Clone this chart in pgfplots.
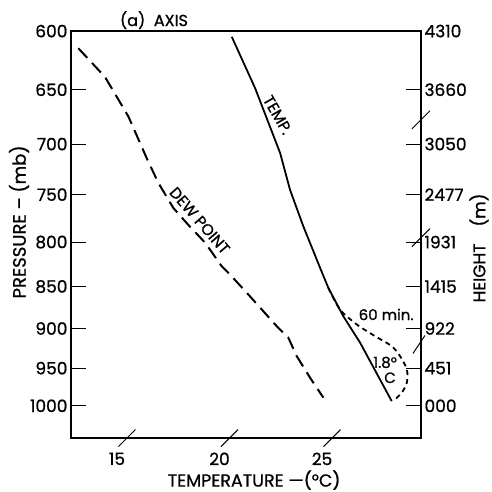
\documentclass[border=0pt]{standalone}
\usepackage{pgfplots}
\pgfplotsset{compat=1.18}
\usepackage{fontspec}
\setmainfont{Poppins}[FakeBold=0.8]
\begin{document}
\begin{tikzpicture}
\begin{axis}[name=ax,
  width=350pt, height=407pt, scale only axis,
  xmin=12.27, xmax=29.34,
  ymode=log, ymin=600, ymax=1045, y dir=reverse,
  clip=false,
  axis line style={line width=2pt},
  ytick={600,650,700,750,800,850,900,950,1000},
  yticklabels={600,650,700,750,800,850,900,950,1000},
  ytick pos=left, tick align=inside,
  major tick length=15pt,
  ytick style={line width=1pt, black},
  xtick={15,20,25}, xticklabels={15,20,25},
  xtick style={draw=none},
  xticklabel style={xshift=-10pt, yshift=-11pt},
  /pgf/number format/assume math mode=true,
  tick label style={font=\fontsize{17}{20}\selectfont},
]
\addplot[black, line width=1.8pt] coordinates {
(20.11,604.7) (21.25,648.6) (22.47,708.6) (22.95,744.9) (23.60,783.1)
(24.42,828.7) (24.82,851.5) (25.55,885.1) (26.37,917.6) (27.91,993.6)};
\addplot[black, line width=2pt, dash pattern=on 13pt off 7pt] coordinates {
(12.63,614.3) (13.93,638.8) (15.07,674.2) (15.96,713.5) (16.53,738.1)
(17.26,763.7) (17.98,781.3) (18.81,800.6) (19.62,826.8) (20.03,836.3)
(20.92,859.3) (21.65,879.1) (22.30,897.1) (22.87,911.4) (23.28,934.6)
(23.93,962.5) (24.58,989.0)};
\addplot[black, line width=1.8pt, dash pattern=on 5pt off 4pt, smooth] coordinates {
(24.82,851.5) (25.39,877.0) (26.21,895.1) (27.10,909.5) (27.91,921.9)
(28.32,934.6) (28.65,951.6) (28.65,968.9) (28.40,982.3) (27.99,993.6)};
% slanted ticks
\draw[line width=1pt] ([shift={(-8.5pt,-8.5pt)}]axis cs:15,1045) -- ++(17pt,17pt);
\draw[line width=1pt] ([shift={(-8.5pt,-8.5pt)}]axis cs:20,1045) -- ++(17pt,17pt);
\draw[line width=1pt] ([shift={(-8.5pt,-8.5pt)}]axis cs:25,1045) -- ++(17pt,17pt);
\draw[line width=1pt] ([shift={(-9pt,-9pt)}]axis cs:29.34,677.2) -- ++(18pt,18pt);
\draw[line width=1pt] ([shift={(-9pt,-9pt)}]axis cs:29.34,795.2) -- ++(18pt,18pt);
\draw[line width=1pt] ([shift={(-8pt,-9pt)}]axis cs:29.34,919.8) -- ++(12pt,18pt);
% annotations
\node[rotate=-60, font=\fontsize{15.5}{17}\selectfont] at (axis cs:22.35,672.7) {TEMP.};
\node[rotate=-49, font=\fontsize{15.5}{17}\selectfont] at (axis cs:18.55,777) {DEW POINT};
\node[font=\fontsize{15}{17}\selectfont] at (axis cs:27.64,883) {60 min.};
\node[font=\fontsize{15}{17}\selectfont] at (axis cs:27.59,942.6) {1.8°};
\node[font=\fontsize{15}{17}\selectfont] at (axis cs:27.83,962.5) {C};
\node[font=\fontsize{16}{18}\selectfont] at ([yshift=11pt]rel axis cs:0.237,1) {(a)\ \ AXIS};
\node[font=\fontsize{17.5}{20}\selectfont] at ([yshift=-42pt]rel axis cs:0.523,0) {TEMPERATURE —(°C)};
\node[rotate=90, font=\fontsize{18}{20}\selectfont] at ([xshift=-52pt]rel axis cs:0,0.531) {PRESSURE – (mb)};
\node[rotate=90, font=\fontsize{17}{20}\selectfont] at ([xshift=58pt]rel axis cs:1,0.467) {HEIGHT\quad (m)};
\end{axis}
\begin{axis}[
  width=350pt, height=407pt, scale only axis,
  xmin=12.27, xmax=29.34,
  ymode=log, ymin=600, ymax=1045, y dir=reverse,
  axis y line*=right, axis x line=none,
  axis line style={line width=2pt},
  ytick={600,650,700,750,800,850,900,950,1000},
  yticklabels={4310,3660,3050,2477,1931,1415,922,451,000},
  tick align=inside, major tick length=15pt,
  ytick style={line width=1pt, black},
  /pgf/number format/assume math mode=true,
  tick label style={font=\fontsize{17}{20}\selectfont},
]
\addplot[draw=none] coordinates {(20,700)};
\end{axis}
\pgfresetboundingbox
\path ([shift={(-71pt,-54pt)}]ax.south west) rectangle ([shift={(71pt,31pt)}]ax.north east);
\end{tikzpicture}
\end{document}
